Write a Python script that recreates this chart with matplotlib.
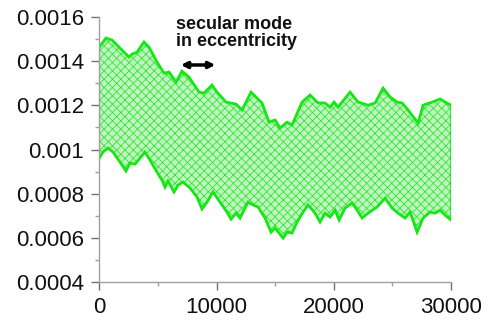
import numpy as np
import matplotlib
matplotlib.use("Agg")
import matplotlib.pyplot as plt
from matplotlib.ticker import MultipleLocator, FixedLocator

plt.rcParams["font.family"] = ["Liberation Sans", "DejaVu Sans"]
plt.rcParams["hatch.linewidth"] = 0.6

# Upper envelope of the eccentricity band (time in years, eccentricity x 1e-4)
upper_t = [0, 572, 1084, 1681, 2534, 2790, 3217, 3814, 4240, 4923, 5520, 5947,
           6544, 7056, 7653, 8506, 8933, 9615, 10042, 10810, 11663, 12175,
           12943, 13455, 13882, 14479, 14991, 15418, 16015, 16441, 17295,
           17977, 18660, 19257, 19684, 20025, 20366, 21390, 22073, 22926,
           23523, 24206, 24803, 25401, 25827, 26339, 27193, 27619, 28387,
           29070, 29496, 30000]
upper_e = [14.64, 15.05, 14.96, 14.64, 14.19, 14.32, 14.41, 14.87, 14.64, 13.96,
           13.46, 13.51, 13.06, 13.55, 13.28, 12.60, 12.56, 12.92, 12.60, 12.15,
           12.06, 11.79, 12.60, 12.33, 12.11, 11.24, 11.34, 10.97, 11.24, 11.11,
           12.15, 12.47, 12.11, 12.11, 11.92, 12.15, 11.92, 12.60, 12.15, 12.01,
           12.11, 12.78, 12.38, 12.15, 12.11, 11.79, 11.20, 12.01, 12.15, 12.29,
           12.15, 12.01]

# Lower envelope of the eccentricity band (time in years, eccentricity x 1e-4)
lower_t = [0, 316, 742, 1169, 1766, 2278, 2619, 3046, 3473, 3899, 4326, 4923,
           5350, 5605, 5861, 6373, 6715, 7141, 7739, 8336, 8762, 9189, 9700,
           10298, 10895, 11237, 11663, 12004, 12431, 12687, 13114, 13540,
           14138, 14650, 14991, 15674, 16015, 16441, 16868, 17380, 17807,
           18404, 18831, 19257, 19684, 20111, 20452, 20964, 21561, 21988,
           22414, 22926, 23694, 24377, 24974, 25486, 26083, 26510, 27107,
           27619, 28216, 28643, 29070, 29496, 30000]
lower_e = [9.61, 9.89, 10.07, 9.89, 9.43, 9.03, 9.39, 9.34, 9.61, 9.89, 9.52,
           8.98, 8.62, 8.30, 8.57, 8.08, 8.39, 8.53, 8.26, 7.85, 7.31, 7.62, 8.08,
           7.62, 7.17, 6.85, 7.12, 6.90, 7.35, 7.62, 7.49, 7.40, 6.90, 6.26, 6.45,
           5.99, 6.26, 6.22, 6.72, 7.17, 7.49, 7.12, 6.72, 7.12, 6.94, 7.26, 6.81,
           7.35, 7.58, 7.26, 6.90, 7.12, 7.40, 7.80, 7.35, 7.12, 6.90, 7.17, 6.26,
           6.90, 7.17, 7.12, 7.26, 7.03, 6.81]

SCALE = 1e-4
ut = np.array(upper_t)
ue = np.array(upper_e) * SCALE
lt = np.array(lower_t)
le = np.array(lower_e) * SCALE

GREEN = "#14e814"

fig = plt.figure(figsize=(4.94, 3.22), dpi=100)
ax = fig.add_axes([0.201, 0.124, 0.712, 0.823])

# band between the two envelopes, filled with a fine green mesh
band_x = np.concatenate([ut, lt[::-1]])
band_y = np.concatenate([ue, le[::-1]])
ax.fill(band_x, band_y, facecolor="#bff6bf", edgecolor="#36e436",
        hatch="xxxx", linewidth=0)
ax.plot(ut, ue, color=GREEN, lw=2.0, solid_joinstyle="miter")
ax.plot(lt, le, color=GREEN, lw=2.0, solid_joinstyle="miter")
ax.plot([ut[0], lt[0]], [ue[0], le[0]], color=GREEN, lw=1.2)
ax.plot([ut[-1], lt[-1]], [ue[-1], le[-1]], color=GREEN, lw=1.2)

ax.set_xlim(0, 30000)
ax.set_ylim(0.0004, 0.0016)

ax.xaxis.set_major_locator(MultipleLocator(10000))
ax.xaxis.set_minor_locator(MultipleLocator(5000))
ax.yaxis.set_major_locator(FixedLocator([0.0004, 0.0006, 0.0008, 0.001,
                                         0.0012, 0.0014, 0.0016]))
ax.yaxis.set_minor_locator(MultipleLocator(0.0001))
ax.set_yticklabels(["0.0004", "0.0006", "0.0008", "0.001",
                    "0.0012", "0.0014", "0.0016"])

for side in ("top", "right"):
    ax.spines[side].set_visible(False)
for side in ("left", "bottom"):
    ax.spines[side].set_color("#a0a0a0")
    ax.spines[side].set_linewidth(1.0)

ax.tick_params(which="major", length=6, width=1.0, color="#707070",
               labelsize=16, labelcolor="#111111", pad=5)
ax.tick_params(which="minor", length=3, width=1.0, color="#a0a0a0")

ax.annotate("", xy=(9900, 0.001383), xytext=(6950, 0.001383),
            arrowprops=dict(arrowstyle="<|-|>", color="black", lw=2.5,
                            mutation_scale=9, shrinkA=0, shrinkB=0))
ax.text(6500, 0.00153, "secular mode\nin eccentricity", fontsize=13,
        fontweight="bold", ha="left", va="center", linespacing=1.0,
        color="#111111")

fig.savefig("out.png", dpi=100)
